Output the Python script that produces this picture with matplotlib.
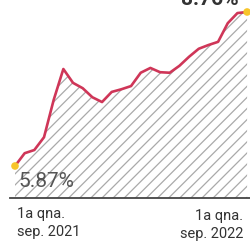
import matplotlib.pyplot as plt

# Data: tasa anual de inflación por quincena, 1a qna. sep 2021 -> 1a qna. sep 2022
quincenas = list(range(25))
inflacion = [5.87, 6.11, 6.17, 6.41, 7.11, 7.69, 7.43, 7.33, 7.16, 7.07,
             7.26, 7.31, 7.37, 7.62, 7.71, 7.63, 7.62, 7.75, 7.92, 8.07,
             8.14, 8.20, 8.55, 8.74, 8.76]
etiqueta_ini = "5.87%"
etiqueta_fin = "8.76%"
fechas = ["1a qna.\nsep. 2021", "1a qna.\nsep. 2022"]
base = 5.27

DPI = 100
fig = plt.figure(figsize=(250 / DPI, 243 / DPI), dpi=DPI)
ax = fig.add_axes([0, 0, 1, 1])
ax.axis('off')

plt.rcParams['hatch.color'] = '#aaaaaa'
plt.rcParams['hatch.linewidth'] = 0.9

# hatched area under the line
ax.fill_between(quincenas, inflacion, base, facecolor='white', edgecolor='#aaaaaa',
                hatch='///', linewidth=0)
ax.plot(quincenas, inflacion, color='#cf3658', lw=1.9, solid_joinstyle='round')
ax.scatter([quincenas[0], quincenas[-1]], [inflacion[0], inflacion[-1]],
           s=30, color='#f7c52a', zorder=5, edgecolor='none')

# baseline
ax.axhline(base, xmin=0.04, xmax=1, color='#444444', lw=1.3)

ax.set_xlim(-1.551, 24.30)
ax.set_ylim(4.425, 8.985)

fig.text(18 / 250, 1 - 181 / 243, etiqueta_ini, fontsize=15, color='#555555',
         family='Roboto', va='center', ha='left')
fig.text(239 / 250, 1 - 5 / 243, etiqueta_fin, fontsize=15, color='#333333',
         family='Roboto', fontweight='bold', va='baseline', ha='right')

fig.text(17 / 250, 1 - 207 / 243, fechas[0], fontsize=10.5, color='#333333',
         family='Roboto', va='top', ha='left', linespacing=1.4)
fig.text(243 / 250, 1 - 209 / 243, fechas[1], fontsize=10.5, color='#333333',
         family='Roboto', va='top', ha='right', linespacing=1.4, multialignment='right')

fig.savefig('out.png', dpi=DPI)
